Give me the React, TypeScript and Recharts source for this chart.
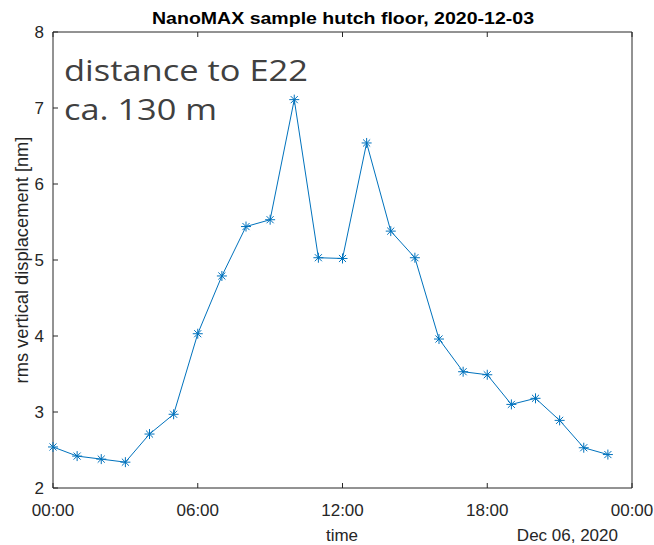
import React from "react";
import { LineChart, Line, XAxis, YAxis } from "recharts";

// hourly samples, Dec 06 2020
const hours = [0, 1, 2, 3, 4, 5, 6, 7, 8, 9, 10, 11, 12, 13, 14, 15, 16, 17, 18, 19, 20, 21, 22, 23];
const rmsValues = [
  2.54, 2.42, 2.38, 2.34, 2.71, 2.97, 4.03, 4.79, 5.44, 5.53, 7.11, 5.03,
  5.02, 6.54, 5.38, 5.03, 3.96, 3.53, 3.49, 3.1, 3.18, 2.89, 2.53, 2.44,
];

const xTicks = [0, 6, 12, 18, 24];
const xTickLabels = ["00:00", "06:00", "12:00", "18:00", "00:00"];
const yTicks = [2, 3, 4, 5, 6, 7, 8];

const data = hours.map((h, i) => ({ hour: h, rms: rmsValues[i] }));

const AXIS = "#262626";
const FONT = "'Liberation Sans', Arial, sans-serif";
const TICK_LEN = 5;

const BottomTick = (props: any) => {
  const { x, y, payload } = props;
  const idx = xTicks.indexOf(payload.value);
  return (
    <g>
      <line x1={x} x2={x} y1={y} y2={y - TICK_LEN} stroke={AXIS} />
      <text x={x} y={y + 28} textAnchor="middle" fill={AXIS} fontSize={17} fontFamily={FONT}>
        {xTickLabels[idx]}
      </text>
    </g>
  );
};

const TopTick = (props: any) => {
  const { x, y } = props;
  return <line x1={x} x2={x} y1={y} y2={y + TICK_LEN} stroke={AXIS} />;
};

const LeftTick = (props: any) => {
  const { x, y, payload } = props;
  return (
    <g>
      <line x1={x} x2={x + TICK_LEN} y1={y} y2={y} stroke={AXIS} />
      <text x={x - 9} y={y + 6} textAnchor="end" fill={AXIS} fontSize={17} fontFamily={FONT}>
        {payload.value}
      </text>
    </g>
  );
};

const RightTick = (props: any) => {
  const { x, y } = props;
  return <line x1={x} x2={x - TICK_LEN} y1={y} y2={y} stroke={AXIS} />;
};

// MATLAB style '*' marker
const Asterisk = (props: any) => {
  const { cx, cy, index } = props;
  const r = 5;
  const d = r * 0.707;
  return (
    <g key={`m-${index}`} stroke="#0072BD" strokeWidth={1}>
      <line x1={cx - r} x2={cx + r} y1={cy} y2={cy} />
      <line x1={cx} x2={cx} y1={cy - r} y2={cy + r} />
      <line x1={cx - d} x2={cx + d} y1={cy - d} y2={cy + d} />
      <line x1={cx - d} x2={cx + d} y1={cy + d} y2={cy - d} />
    </g>
  );
};

export default function App() {
  return (
    <div style={{ position: "absolute", left: 0, top: 0, width: 654, height: 545, background: "#fff" }}>
      <LineChart
        width={654}
        height={545}
        data={data}
        margin={{ top: 31, right: 21, bottom: 56, left: 0 }}
      >
        <XAxis
          dataKey="hour"
          type="number"
          domain={[0, 24]}
          ticks={xTicks}
          tickSize={0}
          tickMargin={0}
          height={1}
          axisLine={{ stroke: AXIS }}
          tick={BottomTick}
          interval={0}
        />
        <XAxis
          xAxisId="top"
          orientation="top"
          dataKey="hour"
          type="number"
          domain={[0, 24]}
          ticks={xTicks}
          tickSize={0}
          tickMargin={0}
          height={1}
          axisLine={{ stroke: AXIS }}
          tick={TopTick}
          interval={0}
        />
        <YAxis
          type="number"
          domain={[2, 8]}
          ticks={yTicks}
          tickSize={0}
          tickMargin={0}
          width={53}
          axisLine={{ stroke: AXIS }}
          tick={LeftTick}
          interval={0}
        />
        <YAxis
          yAxisId="right"
          orientation="right"
          type="number"
          domain={[2, 8]}
          ticks={yTicks}
          tickSize={0}
          tickMargin={0}
          width={1}
          axisLine={{ stroke: AXIS }}
          tick={RightTick}
          interval={0}
        />
        <Line
          type="linear"
          dataKey="rms"
          stroke="#0072BD"
          strokeWidth={1}
          dot={Asterisk}
          activeDot={false}
          isAnimationActive={false}
        />
      </LineChart>
      <svg
        width={654}
        height={545}
        style={{ position: "absolute", left: 0, top: 0, pointerEvents: "none" }}
      >
        <text
          x={152}
          y={24}
          fontSize={16.5}
          fontWeight="bold"
          fill="#000"
          fontFamily={FONT}
          textLength={382}
          lengthAdjust="spacingAndGlyphs"
        >
          NanoMAX sample hutch floor, 2020-12-03
        </text>
        <text
          transform="translate(28 260) rotate(-90)"
          textAnchor="middle"
          fontSize={18.3}
          fill={AXIS}
          fontFamily={FONT}
        >
          rms vertical displacement [nm]
        </text>
        <text x={342} y={541} textAnchor="middle" fontSize={17} fill={AXIS} fontFamily={FONT}>
          time
        </text>
        <text x={618} y={541} textAnchor="end" fontSize={17} fill={AXIS} fontFamily={FONT}>
          Dec 06, 2020
        </text>
        <g fontFamily="'Open Sans', sans-serif" fontSize={29} fill="#404040">
          <text x={64} y={81} textLength={244} lengthAdjust="spacingAndGlyphs">
            distance to E22
          </text>
          <text x={64} y={120} textLength={153} lengthAdjust="spacingAndGlyphs">
            ca. 130 m
          </text>
        </g>
      </svg>
    </div>
  );
}
